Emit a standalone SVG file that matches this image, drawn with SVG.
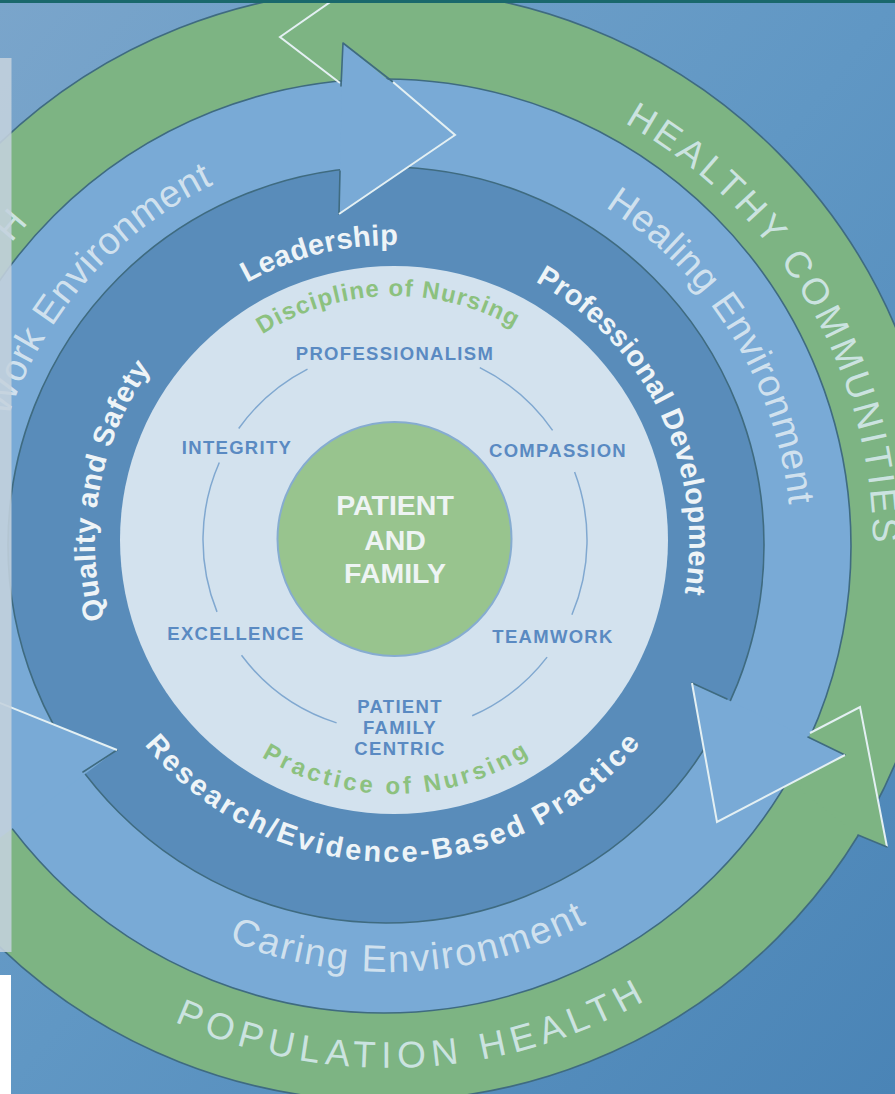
<svg xmlns="http://www.w3.org/2000/svg" width="895" height="1094" viewBox="0 0 895 1094">
<defs>
<linearGradient id="bg" x1="0" y1="0" x2="1" y2="1">
<stop offset="0" stop-color="#7aa5cb"/>
<stop offset="0.5" stop-color="#6097c4"/>
<stop offset="1" stop-color="#4a84b6"/>
</linearGradient>
<path id="p-dark-cw" d="M392,839 A297,297 0 1 1 392,245 A297,297 0 1 1 392,839"/>
<path id="p-dark-bot" d="M72,542 A320,320 0 0 0 712,542"/>
<path id="p-light-cw" d="M394,784 A244,244 0 1 1 394,296 A244,244 0 1 1 394,784"/>
<path id="p-light-bot" d="M140,540 A254,254 0 0 0 648,540"/>
<path id="p-med-cw" d="M389,948 A402,402 0 1 1 389,144 A402,402 0 1 1 389,948"/>
<path id="p-med-bot" d="M-37,546 A426,426 0 0 0 815,546"/>
<path id="p-green-cw" d="M389,1030 A484,484 0 1 1 389,62 A484,484 0 1 1 389,1030"/>
<path id="p-green-bot" d="M-133,546 A522,522 0 0 0 911,546"/>
</defs>
<style>
.edge{fill:none;stroke:#3f6b80;stroke-width:1.6;stroke-linejoin:round;stroke-linecap:round}
.hl{fill:none;stroke:#e4f0f3;stroke-width:2;stroke-linejoin:miter}
.lbl{font-family:"Liberation Sans",Arial,sans-serif;font-weight:700;font-size:18.5px;fill:#5a8ac2;letter-spacing:1.3px;text-anchor:middle}
.core{font-family:"Liberation Sans",Arial,sans-serif;font-weight:700;font-size:28.5px;fill:#eef4f4;text-anchor:middle}
.ring{font-family:"Liberation Sans",Arial,sans-serif;font-weight:700;font-size:29px;fill:#eef4f7;text-anchor:middle}
.nurs{font-family:"Liberation Sans",Arial,sans-serif;font-weight:700;font-size:24px;fill:#8cc17f;text-anchor:middle}
.env{font-family:"Liberation Sans",Arial,sans-serif;font-size:38px;fill:#d9e7f1;fill-opacity:0.92;text-anchor:middle}
.comm{font-family:"Liberation Sans",Arial,sans-serif;font-size:37px;fill:#d4e8ea;fill-opacity:0.92;text-anchor:middle}
</style>

<g id="background">
<rect x="0" y="0" width="895" height="1094" fill="url(#bg)"/>
</g>

<g id="green-ring">
<circle cx="384" cy="545" r="556" fill="#7db483" stroke="#3f6b80" stroke-width="1.6"/>
</g>

<g id="medium-ring">
<circle cx="384" cy="546" r="467" fill="#79aad6" stroke="#3f6b80" stroke-width="1.6"/>
</g>

<g id="green-arrowheads">
<polygon points="810,733 860,707 887,847 858,835 800,790" fill="#7db483"/>
<polyline class="hl" points="810,733 860,707 887,847"/>
<line class="edge" x1="887" y1="847" x2="858" y2="835"/>
<polyline class="hl" points="336,-2 280,37 340,83"/>
</g>

<g id="dark-ring">
<circle cx="386" cy="545" r="378" fill="#598cba" stroke="#3f6b80" stroke-width="1.6"/>
</g>

<g id="medium-arrowheads">
<polygon points="343,43 455,135 339,214" fill="#79aad6"/>
<polyline class="edge" points="393,82 343,43 341,86"/>
<line class="edge" x1="340" y1="171" x2="339" y2="214"/>
<polyline class="hl" points="393,82 455,135 339,214"/>
<polygon points="692,683 717,822 845,755" fill="#79aad6"/>
<line class="edge" x1="692" y1="683" x2="727" y2="699"/>
<line class="edge" x1="808" y1="737" x2="845" y2="755"/>
<polyline class="hl" points="692,683 717,822 845,755"/>
<polygon points="117,750 -20,695 -19,852" fill="#79aad6"/>
<line class="edge" x1="117" y1="750" x2="83" y2="772"/>
<line class="hl" x1="117" y1="750" x2="-20" y2="695"/>
</g>

<g id="light-disk">
<circle cx="394" cy="540" r="274" fill="#d3e2ee"/>
</g>

<g id="connectors">
<g fill="none" stroke="#80a8d0" stroke-width="1.5">
<path d="M238.7,428.5 A192,192 0 0 1 307.5,369.1"/>
<path d="M479.8,367.7 A192,192 0 0 1 552.6,430.4"/>
<path d="M574.6,472.1 A192,192 0 0 1 571.9,614.7"/>
<path d="M336.6,722.9 A192,192 0 0 1 241.5,655.3"/>
<path d="M547.1,657.1 A192,192 0 0 1 472.2,715.8"/>
<path d="M217.0,611.9 A192,192 0 0 1 219.3,462.5"/>
</g>
</g>

<g id="patient-and-family">
<circle cx="394.5" cy="539" r="117" fill="#98c48e" stroke="#86acd0" stroke-width="2"/>
<text class="core" x="395" y="515">PATIENT</text>
<text class="core" x="395" y="550">AND</text>
<text class="core" x="395" y="583">FAMILY</text>
</g>

<g id="values">
<text class="lbl" x="395" y="360">PROFESSIONALISM</text>
<text class="lbl" x="237" y="454">INTEGRITY</text>
<text class="lbl" x="558" y="457">COMPASSION</text>
<text class="lbl" x="236" y="640">EXCELLENCE</text>
<text class="lbl" x="553" y="643">TEAMWORK</text>
<text class="lbl" x="400" y="713">PATIENT</text>
<text class="lbl" x="400" y="734">FAMILY</text>
<text class="lbl" x="400" y="755">CENTRIC</text>
</g>

<g id="nursing-labels">
<text class="nurs" letter-spacing="1.2"><textPath href="#p-light-cw" startOffset="49.6%">Discipline of Nursing</textPath></text>
<text class="nurs" letter-spacing="3.4"><textPath href="#p-light-bot" startOffset="50.4%">Practice of Nursing</textPath></text>
</g>

<g id="dark-ring-labels">
<text class="ring" letter-spacing="0.3"><textPath href="#p-dark-cw" startOffset="46.1%">Leadership</textPath></text>
<text class="ring" letter-spacing="0.2"><textPath href="#p-dark-cw" startOffset="67.9%">Professional Development</textPath></text>
<text class="ring" letter-spacing="0.6"><textPath href="#p-dark-cw" startOffset="27.9%">Quality and Safety</textPath></text>
<text class="ring" letter-spacing="2.7"><textPath href="#p-dark-bot" startOffset="50.2%">Research/Evidence-Based Practice</textPath></text>
</g>

<g id="environment-labels">
<text class="env" letter-spacing="0.5"><textPath href="#p-med-cw" startOffset="66.2%">Healing Environment</textPath></text>
<text class="env" letter-spacing="0.5"><textPath href="#p-med-cw" startOffset="36.5%">Work Environment</textPath></text>
<text class="env" letter-spacing="2"><textPath href="#p-med-bot" startOffset="51.6%">Caring Environment</textPath></text>
</g>

<g id="community-labels">
<text class="comm" letter-spacing="3.9"><textPath href="#p-green-cw" startOffset="66.55%">HEALTHY COMMUNITIES</textPath></text>
<text class="comm" letter-spacing="6.2"><textPath href="#p-green-bot" startOffset="51.6%">POPULATION HEALTH</textPath></text>
<text class="comm"><textPath href="#p-green-cw" startOffset="36.2%">H</textPath></text>
</g>

<g id="overlay">
<rect x="0" y="0" width="895" height="3" fill="#1a686c"/>
<rect x="0" y="58" width="11.5" height="894" fill="#c4d1dd" fill-opacity="0.88"/>
<rect x="0" y="975" width="11" height="119" fill="#ffffff"/>
</g>
</svg>
